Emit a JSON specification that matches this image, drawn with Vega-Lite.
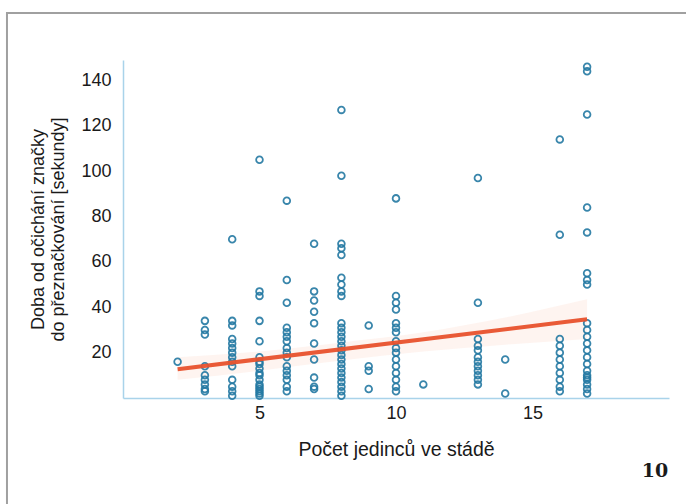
{
  "$schema": "https://vega.github.io/schema/vega-lite/v6.json",
  "width": 546,
  "height": 338,
  "autosize": {"type": "none"},
  "padding": {"left": 123, "top": 60, "right": 17, "bottom": 106},
  "background": "white",
  "config": {
    "view": {"stroke": null},
    "font": "Liberation Sans",
    "axis": {
      "grid": false,
      "ticks": false,
      "domainColor": "#a9d3ea",
      "domainWidth": 1.5,
      "labelFont": "Liberation Sans",
      "labelFontSize": 18,
      "labelColor": "#1a1a1a",
      "titleFont": "Liberation Sans",
      "titleFontWeight": "normal",
      "titleColor": "#1a1a1a"
    }
  },
  "datasets": {
    "frame": [{"x0": -4.25, "x1": 23, "y0": 169.7, "y1": -60}],
    "label": [{"n": 19.49, "t": -32.2, "txt": "10"}],
    "band": [
      {"n": 2, "lo": 8, "hi": 18},
      {"n": 5, "lo": 12, "hi": 20.5},
      {"n": 8, "lo": 16.5, "hi": 24.5},
      {"n": 11, "lo": 20.5, "hi": 29},
      {"n": 14, "lo": 23.5, "hi": 35.5},
      {"n": 17, "lo": 26, "hi": 43.5}
    ],
    "fit": [{"n": 2, "t": 12.7}, {"n": 17, "t": 34.7}],
    "pts": [
      {"n": 2, "t": 16},
      {"n": 3, "t": 34}, {"n": 3, "t": 30}, {"n": 3, "t": 28}, {"n": 3, "t": 14}, {"n": 3, "t": 10}, {"n": 3, "t": 8}, {"n": 3, "t": 6}, {"n": 3, "t": 4}, {"n": 3, "t": 3},
      {"n": 4, "t": 70}, {"n": 4, "t": 34}, {"n": 4, "t": 32}, {"n": 4, "t": 26}, {"n": 4, "t": 24}, {"n": 4, "t": 22}, {"n": 4, "t": 20}, {"n": 4, "t": 18}, {"n": 4, "t": 16}, {"n": 4, "t": 14}, {"n": 4, "t": 8}, {"n": 4, "t": 5}, {"n": 4, "t": 3}, {"n": 4, "t": 1},
      {"n": 5, "t": 105}, {"n": 5, "t": 47}, {"n": 5, "t": 45}, {"n": 5, "t": 34}, {"n": 5, "t": 25}, {"n": 5, "t": 18}, {"n": 5, "t": 16}, {"n": 5, "t": 15}, {"n": 5, "t": 13}, {"n": 5, "t": 11}, {"n": 5, "t": 10}, {"n": 5, "t": 8}, {"n": 5, "t": 6}, {"n": 5, "t": 5}, {"n": 5, "t": 4}, {"n": 5, "t": 3}, {"n": 5, "t": 2}, {"n": 5, "t": 1},
      {"n": 6, "t": 87}, {"n": 6, "t": 52}, {"n": 6, "t": 42}, {"n": 6, "t": 31}, {"n": 6, "t": 29}, {"n": 6, "t": 27}, {"n": 6, "t": 25}, {"n": 6, "t": 22}, {"n": 6, "t": 20}, {"n": 6, "t": 18}, {"n": 6, "t": 14}, {"n": 6, "t": 12}, {"n": 6, "t": 10}, {"n": 6, "t": 8}, {"n": 6, "t": 5}, {"n": 6, "t": 3},
      {"n": 7, "t": 68}, {"n": 7, "t": 47}, {"n": 7, "t": 43}, {"n": 7, "t": 38}, {"n": 7, "t": 33}, {"n": 7, "t": 24}, {"n": 7, "t": 17}, {"n": 7, "t": 9}, {"n": 7, "t": 5}, {"n": 7, "t": 4},
      {"n": 8, "t": 127}, {"n": 8, "t": 98}, {"n": 8, "t": 68}, {"n": 8, "t": 66}, {"n": 8, "t": 63}, {"n": 8, "t": 53}, {"n": 8, "t": 50}, {"n": 8, "t": 47}, {"n": 8, "t": 45}, {"n": 8, "t": 33}, {"n": 8, "t": 31}, {"n": 8, "t": 29}, {"n": 8, "t": 27}, {"n": 8, "t": 25}, {"n": 8, "t": 23}, {"n": 8, "t": 21}, {"n": 8, "t": 19}, {"n": 8, "t": 17}, {"n": 8, "t": 15}, {"n": 8, "t": 13}, {"n": 8, "t": 11}, {"n": 8, "t": 9}, {"n": 8, "t": 7}, {"n": 8, "t": 5}, {"n": 8, "t": 3}, {"n": 8, "t": 1},
      {"n": 9, "t": 32}, {"n": 9, "t": 14}, {"n": 9, "t": 12}, {"n": 9, "t": 4},
      {"n": 10, "t": 88}, {"n": 10, "t": 45}, {"n": 10, "t": 42}, {"n": 10, "t": 39}, {"n": 10, "t": 33}, {"n": 10, "t": 31}, {"n": 10, "t": 29}, {"n": 10, "t": 25}, {"n": 10, "t": 22}, {"n": 10, "t": 20}, {"n": 10, "t": 17}, {"n": 10, "t": 14}, {"n": 10, "t": 11}, {"n": 10, "t": 8}, {"n": 10, "t": 5}, {"n": 10, "t": 3},
      {"n": 11, "t": 6},
      {"n": 13, "t": 97}, {"n": 13, "t": 42}, {"n": 13, "t": 26}, {"n": 13, "t": 23}, {"n": 13, "t": 21}, {"n": 13, "t": 18}, {"n": 13, "t": 16}, {"n": 13, "t": 14}, {"n": 13, "t": 12}, {"n": 13, "t": 10}, {"n": 13, "t": 8}, {"n": 13, "t": 6},
      {"n": 14, "t": 17}, {"n": 14, "t": 2},
      {"n": 16, "t": 114}, {"n": 16, "t": 72}, {"n": 16, "t": 26}, {"n": 16, "t": 23}, {"n": 16, "t": 20}, {"n": 16, "t": 17}, {"n": 16, "t": 14}, {"n": 16, "t": 11}, {"n": 16, "t": 8}, {"n": 16, "t": 5}, {"n": 16, "t": 3},
      {"n": 17, "t": 146}, {"n": 17, "t": 144}, {"n": 17, "t": 125}, {"n": 17, "t": 84}, {"n": 17, "t": 73}, {"n": 17, "t": 55}, {"n": 17, "t": 52}, {"n": 17, "t": 50}, {"n": 17, "t": 33}, {"n": 17, "t": 30}, {"n": 17, "t": 27}, {"n": 17, "t": 24}, {"n": 17, "t": 21}, {"n": 17, "t": 18}, {"n": 17, "t": 15}, {"n": 17, "t": 12}, {"n": 17, "t": 10}, {"n": 17, "t": 9}, {"n": 17, "t": 8}, {"n": 17, "t": 6}, {"n": 17, "t": 4}, {"n": 17, "t": 2}
    ]
  },
  "layer": [
    {
      "data": {"name": "frame"},
      "mark": {"type": "rect", "fill": null, "stroke": "#a0a0a0", "strokeWidth": 2, "clip": false},
      "encoding": {
        "x": {"field": "x0", "type": "quantitative"},
        "x2": {"field": "x1"},
        "y": {"field": "y0", "type": "quantitative"},
        "y2": {"field": "y1"}
      }
    },
    {
      "data": {"name": "band"},
      "mark": {"type": "area", "color": "#fbd9cc", "opacity": 0.3, "interpolate": "monotone"},
      "encoding": {
        "x": {"field": "n", "type": "quantitative"},
        "y": {"field": "lo", "type": "quantitative"},
        "y2": {"field": "hi"}
      }
    },
    {
      "data": {"name": "pts"},
      "mark": {"type": "point", "filled": false, "shape": "circle", "size": 45, "strokeWidth": 1.8, "color": "#2479a3", "opacity": 0.9},
      "encoding": {
        "x": {
          "field": "n", "type": "quantitative",
          "title": "Počet jedinců ve stádě",
          "scale": {"domain": [0, 20], "nice": false, "zero": false},
          "axis": {"values": [5, 10, 15], "labelPadding": 6, "titlePadding": 18, "titleFontSize": 19.5}
        },
        "y": {
          "field": "t", "type": "quantitative",
          "title": ["Doba od očichání značky", "do přeznačkování [sekundy]"],
          "scale": {"domain": [0, 149], "nice": false},
          "axis": {"values": [20, 40, 60, 80, 100, 120, 140], "labelPadding": 12, "titlePadding": 13, "titleFontSize": 18, "titleLineHeight": 20}
        }
      }
    },
    {
      "data": {"name": "fit"},
      "mark": {"type": "line", "color": "#e8512c", "strokeWidth": 4, "opacity": 0.95},
      "encoding": {
        "x": {"field": "n", "type": "quantitative"},
        "y": {"field": "t", "type": "quantitative"}
      }
    },
    {
      "data": {"name": "label"},
      "mark": {"type": "text", "font": "DejaVu Serif", "fontWeight": "bold", "fontSize": 19, "color": "#1a1a1a", "baseline": "middle", "align": "center", "clip": false},
      "encoding": {
        "x": {"field": "n", "type": "quantitative"},
        "y": {"field": "t", "type": "quantitative"},
        "text": {"field": "txt"}
      }
    }
  ]
}
